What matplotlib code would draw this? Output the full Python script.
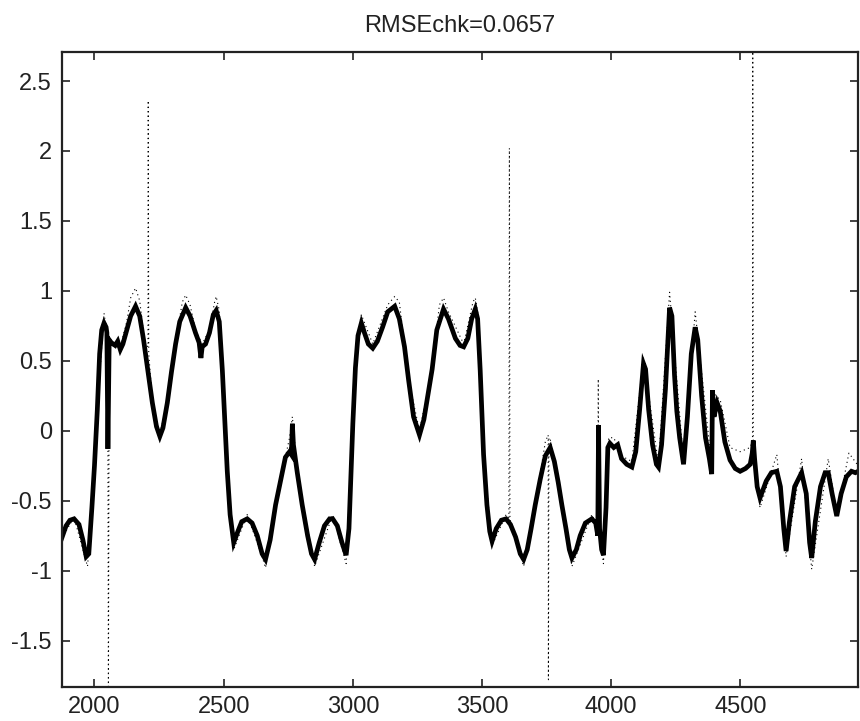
import matplotlib
matplotlib.use("Agg")
import matplotlib.pyplot as plt
from matplotlib import font_manager

# ─────────────────────────────────────────────
# RMSE check trace: fitted curve (thick) vs raw signal (dotted)
# ─────────────────────────────────────────────

installed = {f.name for f in font_manager.fontManager.ttflist}
if "Liberation Sans Narrow" in installed:
    FONT, FSIZE = "Liberation Sans Narrow", 19
else:
    FONT, FSIZE = "Liberation Sans", 17
plt.rcParams["font.family"] = [FONT, "DejaVu Sans"]

TITLE = "RMSEchk=0.0657"

# fitted curve
fit_x = [1873, 1890, 1905, 1921, 1940, 1955, 1968, 1978, 1990, 2000,
         2011, 2020, 2028, 2037, 2045, 2048, 2052, 2057, 2065, 2080,
         2090, 2100, 2110, 2125, 2140, 2159, 2175, 2190, 2205, 2224,
         2240, 2253, 2265, 2282, 2298, 2314, 2330, 2353, 2370, 2391,
         2405, 2412, 2417, 2430, 2445, 2460, 2471, 2483, 2495, 2505,
         2514, 2525, 2539, 2555, 2570, 2591, 2610, 2630, 2649, 2662,
         2680, 2701, 2720, 2739, 2755, 2762, 2766, 2770, 2785, 2804,
         2825, 2840, 2852, 2870, 2890, 2910, 2922, 2940, 2958, 2974,
         2985, 2992, 3000, 3010, 3020, 3033, 3045, 3060, 3077, 3095,
         3115, 3135, 3162, 3180, 3200, 3216, 3235, 3258, 3275, 3290,
         3307, 3325, 3351, 3370, 3397, 3415, 3429, 3445, 3460, 3474,
         3483, 3493, 3500, 3506, 3519, 3530, 3539, 3555, 3575, 3593,
         3610, 3630, 3648, 3661, 3675, 3690, 3706, 3725, 3745, 3764,
         3780, 3795, 3809, 3825, 3838, 3848, 3865, 3880, 3900, 3925,
         3940, 3948, 3951, 3955, 3963, 3970, 3980, 3987, 3995, 4010,
         4025, 4040, 4060, 4080, 4095, 4110, 4125, 4133, 4145, 4160,
         4175, 4183, 4195, 4210, 4226, 4235, 4245, 4254, 4265, 4280,
         4295, 4310, 4325, 4335, 4350, 4365, 4380, 4389, 4392, 4398,
         4410, 4422, 4440, 4460, 4480, 4499, 4520, 4538, 4546, 4550,
         4555, 4565, 4576, 4600, 4620, 4641, 4655, 4668, 4677, 4690,
         4710, 4737, 4755, 4768, 4776, 4790, 4810, 4828, 4840, 4855,
         4873, 4890, 4910, 4930, 4945, 4956]
fit_y = [-0.77, -0.68, -0.64, -0.63, -0.67, -0.78, -0.90, -0.88, -0.55, -0.25,
         0.15, 0.55, 0.72, 0.77, 0.74, 0.70, -0.13, 0.65, 0.63, 0.61,
         0.64, 0.58, 0.62, 0.72, 0.82, 0.89, 0.82, 0.65, 0.45, 0.20,
         0.03, -0.04, 0.02, 0.20, 0.42, 0.62, 0.78, 0.88, 0.82, 0.70,
         0.63, 0.52, 0.60, 0.62, 0.70, 0.83, 0.86, 0.78, 0.43, 0.05,
         -0.29, -0.60, -0.80, -0.72, -0.65, -0.63, -0.66, -0.75, -0.88, -0.92,
         -0.78, -0.53, -0.36, -0.19, -0.15, -0.17, 0.05, -0.10, -0.30, -0.53,
         -0.75, -0.88, -0.92, -0.80, -0.68, -0.63, -0.63, -0.68, -0.80, -0.89,
         -0.70, -0.35, 0.05, 0.45, 0.68, 0.77, 0.70, 0.62, 0.59, 0.64,
         0.74, 0.85, 0.89, 0.80, 0.60, 0.36, 0.10, -0.03, 0.08, 0.25,
         0.44, 0.72, 0.87, 0.80, 0.66, 0.61, 0.60, 0.66, 0.80, 0.87,
         0.80, 0.43, 0.10, -0.17, -0.53, -0.72, -0.79, -0.70, -0.64, -0.63,
         -0.67, -0.76, -0.88, -0.92, -0.85, -0.70, -0.53, -0.35, -0.18, -0.12,
         -0.22, -0.37, -0.53, -0.70, -0.85, -0.91, -0.85, -0.75, -0.66, -0.63,
         -0.66, -0.75, 0.04, -0.70, -0.85, -0.89, -0.55, -0.12, -0.09, -0.12,
         -0.10, -0.20, -0.24, -0.26, -0.15, 0.15, 0.48, 0.44, 0.15, -0.10,
         -0.24, -0.26, -0.10, 0.30, 0.88, 0.82, 0.40, 0.14, -0.05, -0.24,
         0.10, 0.55, 0.74, 0.65, 0.25, -0.05, -0.20, -0.31, 0.29, 0.10,
         0.20, 0.14, -0.08, -0.21, -0.27, -0.29, -0.27, -0.24, -0.16, -0.07,
         -0.20, -0.40, -0.48, -0.36, -0.30, -0.29, -0.40, -0.70, -0.86, -0.65,
         -0.40, -0.30, -0.45, -0.80, -0.91, -0.65, -0.40, -0.30, -0.30, -0.45,
         -0.61, -0.45, -0.33, -0.29, -0.30, -0.29]

# raw signal (dotted)
raw_x = [1873, 1921, 1973, 1992, 2011, 2037, 2048, 2052, 2054, 2057,
         2080, 2100, 2125, 2140, 2159, 2175, 2195, 2207, 2208, 2210,
         2224, 2253, 2282, 2314, 2340, 2353, 2370, 2391, 2417, 2445,
         2465, 2471, 2483, 2495, 2514, 2539, 2591, 2649, 2662, 2701,
         2739, 2755, 2766, 2785, 2852, 2922, 2974, 3000, 3020, 3033,
         3077, 3135, 3162, 3180, 3216, 3258, 3307, 3335, 3351, 3370,
         3429, 3465, 3474, 3483, 3506, 3539, 3593, 3604, 3606, 3608,
         3661, 3706, 3745, 3756, 3757, 3759, 3764, 3809, 3848, 3925,
         3948, 3950, 3952, 3970, 3990, 4010, 4040, 4080, 4125, 4183,
         4226, 4280, 4325, 4389, 4400, 4422, 4460, 4499, 4538, 4547,
         4548, 4550, 4576, 4641, 4677, 4737, 4776, 4840, 4873, 4920,
         4956]
raw_y = [-0.77, -0.62, -0.97, -0.55, 0.15, 0.84, 0.70, -0.13, -1.83, 0.62,
         0.60, 0.60, 0.78, 0.95, 1.02, 0.93, 0.62, 0.60, 2.36, 0.55,
         0.22, -0.02, 0.20, 0.63, 0.92, 0.97, 0.90, 0.72, 0.62, 0.72,
         0.92, 0.96, 0.86, 0.43, -0.29, -0.85, -0.60, -0.90, -0.98, -0.53,
         -0.19, -0.05, 0.10, -0.30, -0.97, -0.60, -0.95, 0.05, 0.70, 0.83,
         0.62, 0.90, 0.96, 0.92, 0.36, 0.00, 0.44, 0.90, 0.95, 0.85,
         0.62, 0.92, 0.95, 0.85, -0.17, -0.82, -0.60, -0.62, 2.02, -0.63,
         -0.97, -0.53, -0.08, -0.03, -1.78, -0.05, -0.06, -0.53, -0.97, -0.60,
         -0.70, 0.37, -0.70, -0.95, -0.05, -0.05, -0.18, -0.22, 0.52, -0.24,
         0.99, -0.22, 0.85, -0.25, 0.26, 0.22, -0.12, -0.15, -0.12, -0.07,
         2.71, -0.10, -0.55, -0.17, -0.90, -0.20, -0.99, -0.20, -0.60, -0.16,
         -0.25]

x_ticks = [2000, 2500, 3000, 3500, 4000, 4500]
y_ticks = [-1.5, -1, -0.5, 0, 0.5, 1, 1.5, 2, 2.5]
y_labels = ["-1.5", "-1", "-0.5", "0", "0.5", "1", "1.5", "2", "2.5"]

fig = plt.figure(figsize=(8.6, 7.21), dpi=100)
ax = fig.add_axes([0.0717, 0.0476, 0.9265, 0.8807])

ax.plot(raw_x, raw_y, color="black", linewidth=0.8, linestyle=(0, (1, 3)))
ax.plot(fit_x, fit_y, color="black", linewidth=3.4, solid_joinstyle="miter")

ax.set_xlim(1873, 4957)
ax.set_ylim(-1.83, 2.71)
ax.set_xticks(x_ticks)
ax.set_yticks(y_ticks)
ax.set_yticklabels(y_labels)
ax.tick_params(direction="in", length=6, width=1.2, top=True, right=True,
               labelsize=FSIZE, pad=7, colors="#222222")
for s in ax.spines.values():
    s.set_linewidth(1.6)
    s.set_color("#222222")

ax.set_title(TITLE, fontsize=FSIZE, pad=14, color="#222222")

fig.savefig("out.png", dpi=100)
plt.close(fig)
